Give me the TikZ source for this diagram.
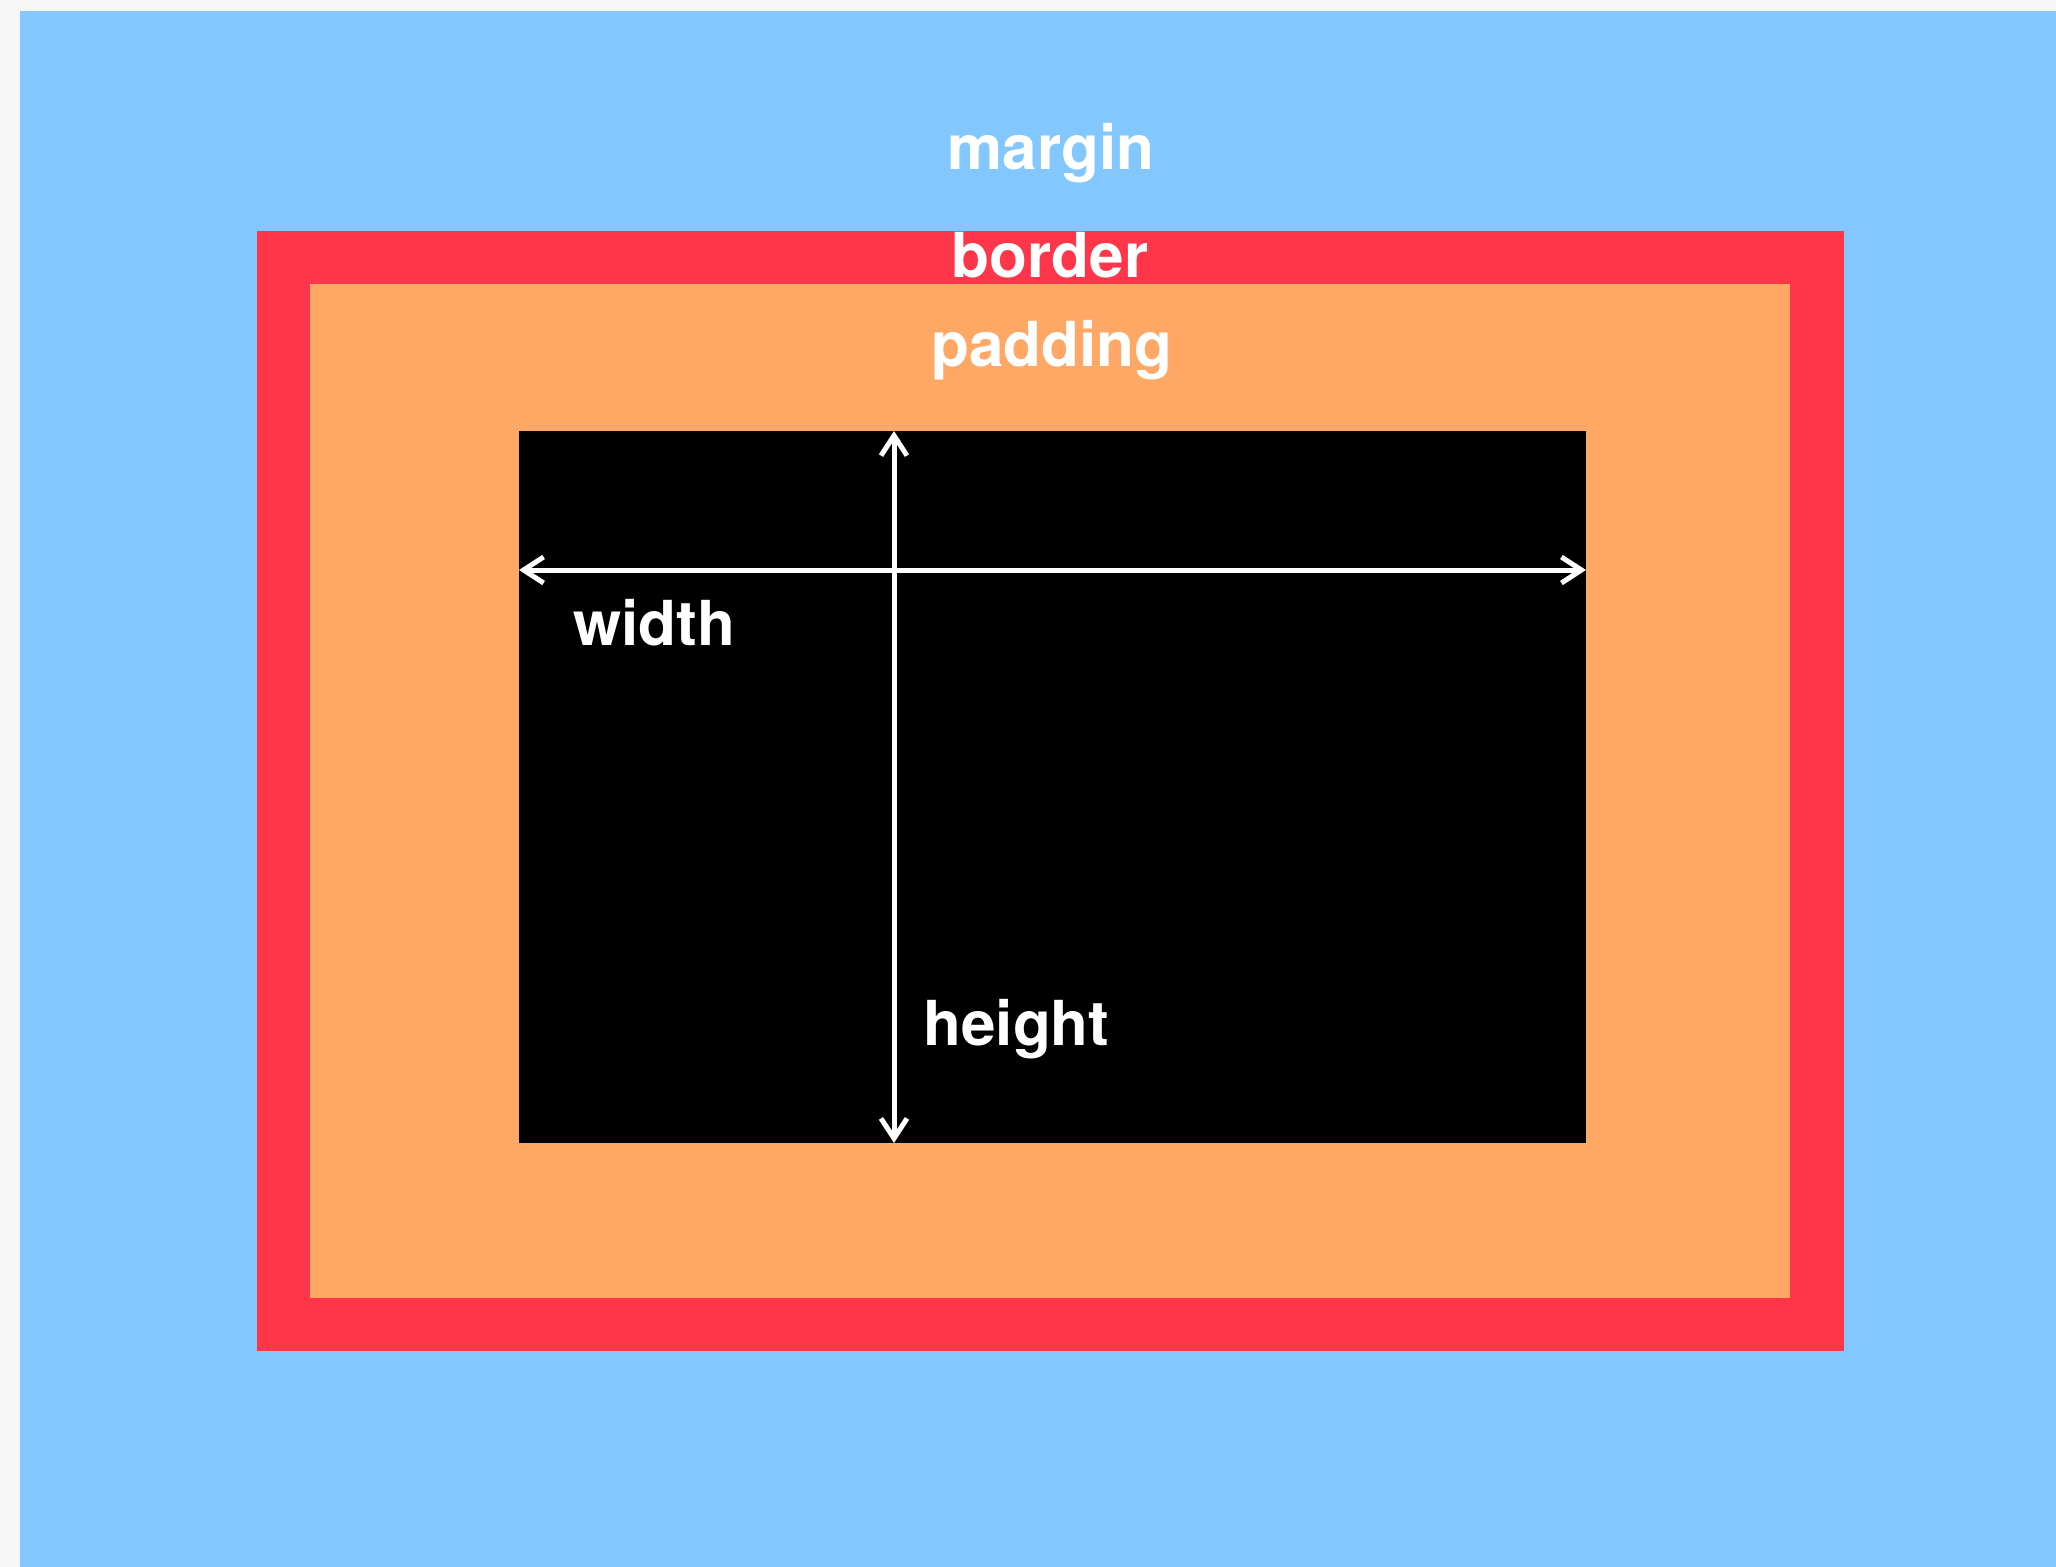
\documentclass[tikz,border=0pt]{standalone}
\usepackage{fontspec}
\setmainfont{TeX Gyre Heros}
\usetikzlibrary{arrows.meta}
\definecolor{bgc}{HTML}{F6F6F6}
\definecolor{marginc}{HTML}{82C8FF}
\definecolor{borderc}{HTML}{FF3649}
\definecolor{paddingc}{HTML}{FFA866}
\tikzset{
  lbl/.style={text=white, font=\bfseries\fontsize{31}{31}\selectfont, inner sep=0pt, anchor=base},
  dim/.style={draw=white, line width=2.5pt, {Straight Barb[length=10pt,width=13pt]}-{Straight Barb[length=10pt,width=13pt]}}
}
\begin{document}
\begin{tikzpicture}[x=0.5pt,y=-0.5pt]
\useasboundingbox (0,0) rectangle (2056,1567);
\fill[bgc] (0,0) rectangle (2056,1567);
\fill[marginc] (20,11) rectangle (2056,1567);
\fill[borderc] (257,231) rectangle (1844,1351);
\fill[paddingc] (310,284) rectangle (1790,1298);
\fill[black] (519,431) rectangle (1586,1143);
\coordinate (wl) at (519,570);
\coordinate (wr) at (1586,570);
\coordinate (ht) at (894,431);
\coordinate (hb) at (894,1143);
\draw[dim] (wl) -- (wr);
\draw[dim] (ht) -- (hb);
\node[lbl] (margin) at (1051,170) {margin};
\node[lbl] (border) at (1050,278) {border};
\node[lbl] (padding) at (1052,367) {padding};
\node[lbl, anchor=base west] (width) at (573,645) {width};
\node[lbl, anchor=base west] (height) at (923,1045) {height};
\end{tikzpicture}
\end{document}
